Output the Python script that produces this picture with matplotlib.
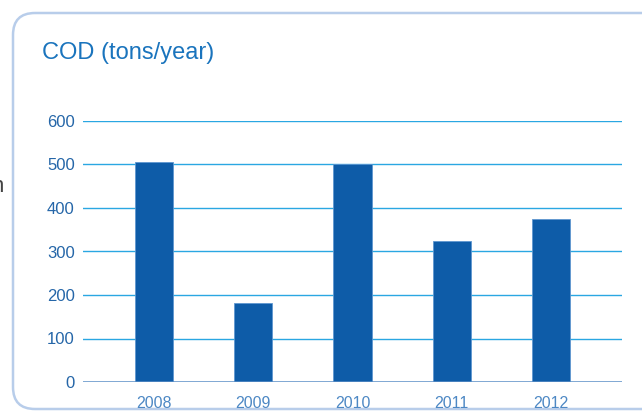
import matplotlib
matplotlib.use("Agg")
import matplotlib.pyplot as plt
from matplotlib.patches import FancyBboxPatch

years = ["2008", "2009", "2010", "2011", "2012"]
cod = [506, 182, 501, 324, 375]
yticks = [0, 100, 200, 300, 400, 500, 600]
title = "COD (tons/year)"

W, H = 642, 412
fig = plt.figure(figsize=(W / 100, H / 100), dpi=100)
plt.rcParams['font.family'] = ['Liberation Sans', 'DejaVu Sans']

# background frame axes in pixel coordinates
bg = fig.add_axes([0, 0, 1, 1])
bg.set_xlim(0, W)
bg.set_ylim(H, 0)
bg.axis('off')
box = FancyBboxPatch((13, 13), 720, 396, boxstyle="round,pad=0,rounding_size=22",
                     fill=False, edgecolor="#b8cdea", linewidth=1.8)
bg.add_patch(box)
bg.text(4, 192, "n", color="#444444", fontsize=16, va='baseline', ha='right')
bg.text(42, 59, title, color="#1a74bd", fontsize=17, va='baseline', ha='left')

ax = fig.add_axes([83 / W, 1 - 382 / H, (622 - 83) / W, (382 - 121) / H])
x = list(range(len(years)))
ax.bar(x, cod, width=0.385, color="#0e5ca8", edgecolor="#5f97d0", linewidth=0.6, zorder=3)
ax.set_xlim(-0.717, 4.717)
ax.set_ylim(0, 600)
ax.set_yticks(yticks)
ax.set_yticklabels([str(v) for v in yticks])
ax.set_xticks(x)
ax.set_xticklabels(years)
for v in yticks[1:]:
    ax.axhline(v, color="#2aa7e2", linewidth=1.0, zorder=1)
ax.axhline(0, color="#5b8ec6", linewidth=1.8, zorder=4)
for s in ax.spines.values():
    s.set_visible(False)
ax.tick_params(axis='y', length=0, pad=6, labelsize=12, labelcolor="#2566a8")
ax.tick_params(axis='x', length=0, pad=10, labelsize=11.5, labelcolor="#4d88c4")
ax.patch.set_alpha(0)

fig.savefig("out.png", dpi=100)
